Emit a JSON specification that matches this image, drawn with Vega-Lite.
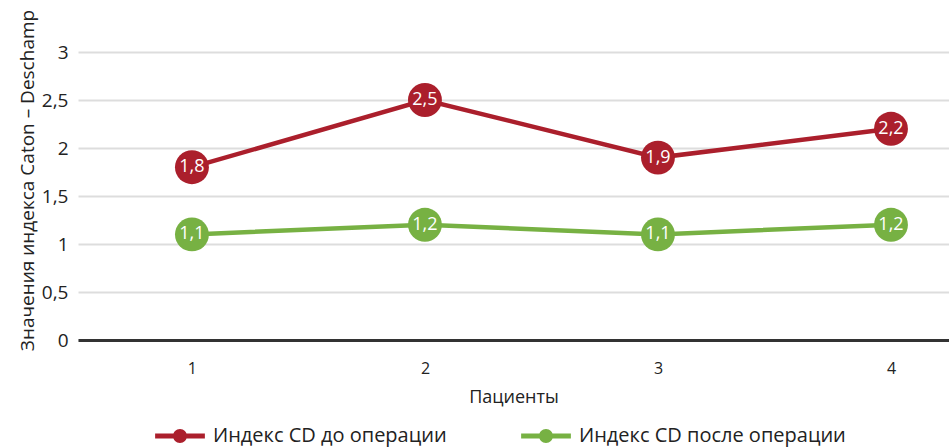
{
  "$schema": "https://vega.github.io/schema/vega-lite/v6.json",
  "width": 871,
  "height": 288,
  "autosize": "none",
  "padding": {"left": 78, "top": 52, "right": 0, "bottom": 108},
  "config": {
    "font": "Open Sans",
    "view": {"stroke": null},
    "locale": {"number": {"decimal": ",", "thousands": " ", "grouping": [3], "currency": ["", ""]}}
  },
  "data": {
    "values": [
      {"patient": 1, "series": "Индекс CD до операции", "value": 1.8},
      {"patient": 2, "series": "Индекс CD до операции", "value": 2.5},
      {"patient": 3, "series": "Индекс CD до операции", "value": 1.9},
      {"patient": 4, "series": "Индекс CD до операции", "value": 2.2},
      {"patient": 1, "series": "Индекс CD после операции", "value": 1.1},
      {"patient": 2, "series": "Индекс CD после операции", "value": 1.2},
      {"patient": 3, "series": "Индекс CD после операции", "value": 1.1},
      {"patient": 4, "series": "Индекс CD после операции", "value": 1.2}
    ]
  },
  "encoding": {
    "x": {
      "field": "patient",
      "type": "quantitative",
      "scale": {"domain": [0.511, 4.249], "nice": false, "zero": false},
      "axis": {
        "values": [1, 2, 3, 4],
        "format": "d",
        "title": "Пациенты",
        "grid": false,
        "ticks": false,
        "domainColor": "#333333",
        "domainWidth": 3,
        "labelFontSize": 16,
        "labelColor": "#222",
        "labelPadding": 20,
        "titleFontSize": 18,
        "titleFontWeight": "normal",
        "titleColor": "#222",
        "titlePadding": 12
      }
    },
    "y": {
      "field": "value",
      "type": "quantitative",
      "scale": {"domain": [0, 3], "nice": false},
      "axis": {
        "values": [0, 0.5, 1, 1.5, 2, 2.5, 3],
        "format": ".1~f",
        "title": "Значения индекса Caton – Deschamp",
        "domain": false,
        "ticks": false,
        "gridWidth": 2,
        "encode": {
          "grid": {
            "update": {
              "stroke": {"signal": "datum.value >= 3 ? '#dcdcdc' : datum.value >= 2 ? '#c8c8c8' : datum.value >= 1.5 ? '#b4b4b4' : datum.value >= 1 ? '#9c9c9c' : '#8a8a8a'"}
            }
          }
        },
        "labelFontSize": 19,
        "labelColor": "#222",
        "labelPadding": 10,
        "titleFontSize": 19,
        "titleFontWeight": "normal",
        "titleColor": "#222",
        "titlePadding": 4,
        "titleY": 128
      }
    },
    "color": {
      "field": "series",
      "type": "nominal",
      "scale": {
        "domain": ["Индекс CD до операции", "Индекс CD после операции"],
        "range": ["#ab1f2c", "#77b143"]
      },
      "legend": {
        "title": null,
        "orient": "none",
        "legendX": 85,
        "legendY": 367,
        "direction": "horizontal",
        "labelFontSize": 20,
        "labelColor": "#222",
        "labelLimit": 400,
        "columnPadding": 74,
        "symbolType": "M-1.5,-0.15 H1.5 V0.15 H-1.5 Z M-0.42,0 A0.42,0.42 0 1,1 0.42,0 A0.42,0.42 0 1,1 -0.42,0 Z",
        "symbolSize": 1100,
        "symbolStrokeWidth": 0,
        "symbolOpacity": 1,
        "labelOffset": 16
      }
    }
  },
  "layer": [
    {
      "mark": {"type": "line", "strokeWidth": 4.5}
    },
    {
      "mark": {"type": "circle", "size": 1150, "opacity": 1}
    },
    {
      "mark": {"type": "text", "color": "white", "fontSize": 18, "baseline": "middle", "align": "center"},
      "encoding": {
        "text": {"field": "value", "type": "quantitative", "format": ".1f"},
        "color": {"value": "white"}
      }
    }
  ]
}
